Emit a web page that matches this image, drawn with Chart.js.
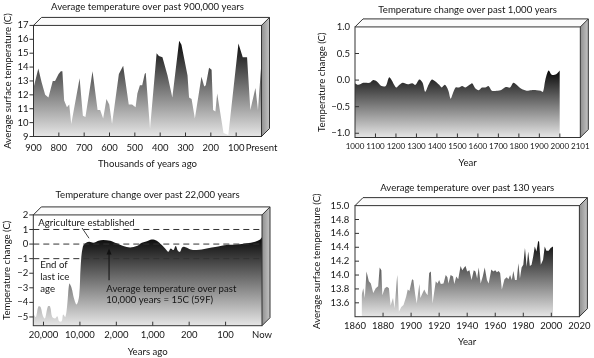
<!DOCTYPE html>
<html>
<head>
<meta charset="utf-8">
<script src="https://cdn.jsdelivr.net/npm/chart.js@4/dist/chart.umd.min.js"></script>
<style>
  body { margin: 0; background: #fff; width: 594px; height: 358px; position: relative; overflow: hidden; }
  canvas { position: absolute; }
</style>
</head>
<body>
<canvas id="c900" width="297" height="179" style="left:0;top:0"></canvas>
<canvas id="c1000" width="297" height="179" style="left:297px;top:0"></canvas>
<canvas id="c22000" width="297" height="179" style="left:0;top:179px"></canvas>
<canvas id="c130" width="297" height="179" style="left:297px;top:179px"></canvas>
<script>
// Past 900,000 years (thousands of years ago -> deg C)
const kyaAgo = [900, 881, 868, 854, 841, 824, 815, 801, 792, 786, 779, 768, 759, 751, 718, 705, 695, 667, 647, 637, 625, 612, 601, 590, 563, 546, 524, 511, 497, 490, 480, 471, 461, 457, 440, 414, 405, 391, 371, 352, 325, 316, 292, 286, 276, 263, 237, 226, 220, 207, 197, 191, 182, 175, 150, 131, 91, 74, 57, 44, 24, 14, 0];
const kyaTemp = [12.5, 13.9, 12.9, 12.0, 11.8, 13.0, 13.0, 13.5, 13.7, 13.7, 11.6, 11.1, 11.3, 9.9, 13.2, 10.5, 10.4, 13.7, 10.9, 10.9, 10.3, 11.7, 11.3, 9.9, 13.5, 14.1, 11.3, 11.3, 11.1, 12.1, 12.7, 12.7, 13.5, 13.6, 9.55, 15.0, 14.8, 14.7, 13.4, 11.8, 15.9, 15.6, 13.4, 11.8, 11.7, 10.3, 13.3, 12.6, 12.7, 13.95, 13.8, 10.9, 10.8, 12.1, 9.25, 9.1, 15.7, 14.7, 14.7, 10.9, 12.5, 10.9, 14.4];
const kyaTicks = [900, 800, 700, 600, 500, 400, 300, 200, 100, 0];
const kyaLabels = ["900", "800", "700", "600", "500", "400", "300", "200", "100", "Present"];
const kyaTempTicks = [9, 10, 11, 12, 13, 14, 15, 16, 17];

// Past 1,000 years (year -> change, deg C)
const milYears = [1000, 1016, 1040, 1072, 1089, 1108, 1129, 1150, 1166, 1177, 1201, 1217, 1233, 1258, 1279, 1295, 1314, 1330, 1343, 1359, 1375, 1391, 1411, 1423, 1439, 1455, 1467, 1478, 1491, 1507, 1523, 1539, 1559, 1572, 1588, 1604, 1620, 1636, 1652, 1668, 1692, 1716, 1736, 1757, 1773, 1789, 1810, 1837, 1861, 1886, 1906, 1918, 1929, 1945, 1961, 1982, 2000];
const milChange = [-0.06, -0.09, -0.05, -0.05, 0.0, -0.03, -0.11, -0.11, 0.05, 0.01, -0.14, -0.09, -0.05, -0.08, -0.06, -0.09, 0.01, -0.05, -0.22, -0.09, 0.01, -0.02, -0.09, -0.14, -0.09, -0.19, -0.35, -0.25, -0.14, -0.14, -0.11, -0.14, -0.09, -0.06, -0.16, -0.19, -0.14, -0.14, -0.11, -0.2, -0.2, -0.18, -0.13, -0.14, -0.05, -0.09, -0.16, -0.2, -0.19, -0.19, -0.2, -0.22, 0.0, 0.18, 0.1, 0.11, 0.18];
const milTicks = [1000, 1100, 1200, 1300, 1400, 1500, 1600, 1700, 1800, 1900, 2000, 2100];
const milLabels = ["1000", "1100", "1200", "1300", "1400", "1500", "1600", "1700", "1800", "1900", "2000", "2101"];
const milChangeTicks = [-1.0, -0.5, 0.0, 0.5, 1.0];

// Past 22,000 years (position on the uneven axis -> change, deg C)
const holoPos = [-0.28, -0.21, -0.14, -0.08, -0.02, 0.04, 0.12, 0.18, 0.24, 0.32, 0.38, 0.43, 0.5, 0.54, 0.6, 0.65, 0.71, 0.77, 0.84, 0.91, 0.98, 1.02, 1.08, 1.17, 1.26, 1.37, 1.51, 1.64, 1.83, 2.01, 2.19, 2.38, 2.56, 2.7, 2.84, 2.97, 3.11, 3.25, 3.34, 3.43, 3.49, 3.57, 3.63, 3.69, 3.75, 3.8, 3.86, 4.02, 4.21, 4.48, 4.76, 5.03, 5.31, 5.58, 5.81, 5.95, 6.0];
const holoChange = [-4.78, -5.0, -4.28, -4.32, -4.9, -5.1, -4.28, -4.28, -5.0, -5.1, -4.95, -5.3, -5.3, -4.83, -5.0, -4.2, -2.71, -2.99, -3.75, -4.14, -3.52, -1.56, -0.19, 0.09, 0.16, 0.09, 0.23, 0.28, 0.23, 0.05, -0.14, -0.23, -0.14, 0.09, 0.2, 0.32, 0.23, -0.07, -0.3, -0.53, -0.3, -0.41, -0.14, -0.46, -0.53, -0.25, -0.19, -0.35, -0.41, -0.3, -0.19, -0.07, -0.03, 0.05, 0.16, 0.32, 0.46];
const holoLabels = ["20,000", "10,000", "2,000", "1,000", "200", "100", "Now"];
const holoChangeTicks = [-5, -4, -3, -2, -1, 0, 1, 2];
const holoRefLines = [1, 0, -1];

// Past 130 years (year -> deg C)
const recYears = [1864.7, 1865.9, 1867, 1868.2, 1869.9, 1871.3, 1873, 1874.8, 1876.5, 1877.6, 1878.8, 1879.5, 1881.2, 1882.8, 1884.2, 1885.4, 1887.1, 1888.2, 1890.1, 1891.3, 1893, 1894.6, 1896.5, 1897.6, 1898.8, 1900.7, 1901.6, 1903, 1904, 1905.9, 1906.6, 1908.2, 1909.4, 1910.6, 1911.8, 1912.9, 1914.1, 1915.3, 1917.6, 1918.8, 1920, 1921.2, 1923.1, 1924.7, 1925.9, 1926.6, 1928.2, 1929.9, 1930.8, 1932.2, 1933.6, 1935.3, 1936.5, 1937.6, 1938.8, 1940, 1941.6, 1943.1, 1944.7, 1945.9, 1947.1, 1948.2, 1949.6, 1951.1, 1952.5, 1954.1, 1955.3, 1957.2, 1958.6, 1960, 1961.2, 1962.4, 1963.5, 1964.7, 1966.6, 1968.2, 1969.4, 1970.6, 1971.8, 1972.9, 1974.1, 1975.3, 1976.5, 1977.6, 1978.8, 1980, 1981.2, 1982.4, 1983.5, 1984.7, 1985.9, 1987.1, 1988.2, 1989.4, 1990.6, 1991.3, 1992.5, 1994.1, 1995.3, 1996.5, 1998.1, 1999.5, 2001.2];
const recTemp = [13.71, 13.81, 13.67, 14.05, 13.91, 13.88, 13.74, 13.81, 13.84, 14.11, 14.07, 13.71, 13.81, 13.83, 13.81, 13.56, 13.67, 13.52, 14.0, 13.47, 13.54, 13.57, 13.69, 13.79, 13.77, 13.94, 13.93, 13.71, 13.59, 13.87, 13.67, 13.74, 13.79, 13.74, 13.71, 14.03, 14.05, 13.59, 13.91, 13.88, 13.93, 13.87, 13.88, 14.0, 13.97, 13.88, 14.0, 13.98, 13.87, 13.98, 13.94, 14.13, 14.07, 14.1, 14.13, 14.05, 14.07, 13.93, 14.07, 14.05, 13.95, 14.11, 13.88, 13.98, 14.11, 13.93, 13.88, 14.08, 14.05, 14.07, 14.04, 14.06, 14.03, 13.79, 13.94, 13.97, 13.94, 14.0, 13.93, 14.06, 13.93, 13.93, 14.17, 13.95, 14.11, 14.15, 14.39, 14.12, 14.34, 14.13, 14.15, 14.27, 14.41, 14.34, 14.49, 14.48, 14.15, 14.22, 14.41, 14.35, 14.35, 14.39, 14.41];
const recTicks = [1860, 1880, 1900, 1920, 1940, 1960, 1980, 2000, 2020];
const recTempTicks = [13.6, 13.8, 14.0, 14.2, 14.4, 14.6, 14.8, 15.0];

const FONT = 'Lato, "Noto Sans", sans-serif';
Chart.defaults.font.family = FONT;
Chart.defaults.color = "#151515";

const minus = (s) => s.replace("-", "\u2212");

// front face, top face and side face of the "box", plus the little tick marks
const box3d = {
    id: "box3d",
    beforeDatasetsDraw(chart, args, opts) {
        const { ctx, chartArea: a } = chart;
        const d = opts.depth;
        ctx.save();
        ctx.fillStyle = "#fbfbfb";
        ctx.beginPath();
        ctx.moveTo(a.left, a.top);
        ctx.lineTo(a.left + d, a.top - d);
        ctx.lineTo(a.right + d, a.top - d);
        ctx.lineTo(a.right, a.top);
        ctx.closePath();
        ctx.fill();
        const g = ctx.createLinearGradient(a.right, 0, a.right + d, 0);
        g.addColorStop(0, "#8f8f8f");
        g.addColorStop(1, "#c4c4c4");
        ctx.fillStyle = g;
        ctx.beginPath();
        ctx.moveTo(a.right, a.top);
        ctx.lineTo(a.right + d, a.top - d);
        ctx.lineTo(a.right + d, a.bottom - d);
        ctx.lineTo(a.right, a.bottom);
        ctx.closePath();
        ctx.fill();
        ctx.restore();
    },
    afterDatasetsDraw(chart, args, opts) {
        const { ctx, chartArea: a, scales } = chart;
        const d = opts.depth;
        ctx.save();
        ctx.strokeStyle = "#333";
        ctx.lineWidth = 1;
        ctx.strokeRect(a.left, a.top, a.right - a.left, a.bottom - a.top);
        ctx.beginPath();
        ctx.moveTo(a.left, a.top);
        ctx.lineTo(a.left + d, a.top - d);
        ctx.lineTo(a.right + d, a.top - d);
        ctx.lineTo(a.right + d, a.bottom - d);
        ctx.lineTo(a.right, a.bottom);
        ctx.moveTo(a.right, a.top);
        ctx.lineTo(a.right + d, a.top - d);
        ctx.stroke();

        ctx.beginPath();
        scales.x.ticks.forEach((t) => {
            const px = scales.x.getPixelForValue(t.value);
            if (px > a.left + 1 && px < a.right - 1) {
                ctx.moveTo(px, a.bottom);
                ctx.lineTo(px, a.bottom - 4);
            }
        });
        scales.y.ticks.forEach((t) => {
            const py = scales.y.getPixelForValue(t.value);
            if (opts.yInside) {
                if (py > a.top + 1 && py < a.bottom - 1) {
                    ctx.moveTo(a.left, py);
                    ctx.lineTo(a.left + 4, py);
                }
            } else {
                ctx.moveTo(a.left - 4, py);
                ctx.lineTo(a.left, py);
            }
        });
        ctx.stroke();
        ctx.restore();
    },
};
Chart.register(box3d);

function shade(values) {
    return (c) => {
        const { chart } = c;
        const { chartArea, scales } = chart;
        if (!chartArea) return "#888";
        const top = scales.y.getPixelForValue(Math.max(...values));
        const g = chart.ctx.createLinearGradient(0, top, 0, chartArea.bottom);
        g.addColorStop(0, "#080808");
        g.addColorStop(1, "#e6e6e6");
        return g;
    };
}

function panel(id, o) {
    return new Chart(document.getElementById(id), {
        type: "line",
        data: {
            datasets: [
                {
                    data: o.xs.map((x, i) => ({ x: x, y: o.ys[i] })),
                    fill: "start",
                    backgroundColor: shade(o.ys),
                    borderWidth: 0,
                    pointRadius: 0,
                    tension: o.tension || 0,
                },
            ],
        },
        options: {
            responsive: false,
            animation: false,
            layout: { padding: { top: o.padTop, right: o.padRight, left: 0, bottom: 0 } },
            plugins: {
                legend: { display: false },
                tooltip: { enabled: false },
                title: {
                    display: true,
                    fullSize: false,
                    text: o.title,
                    color: "#151515",
                    font: { size: 9.6, weight: "normal" },
                    padding: { top: 0, bottom: o.titleGap },
                },
                box3d: { depth: 8, yInside: o.yInside },
            },
            scales: {
                x: {
                    type: "linear",
                    min: o.xMin,
                    max: o.xMax,
                    reverse: !!o.xReverse,
                    grid: { display: false, drawTicks: false },
                    border: { display: false },
                    afterBuildTicks: (s) => { s.ticks = o.xTicks.map((v) => ({ value: v })); },
                    afterFit: (s) => { s.height = o.xHeight; },
                    ticks: {
                        autoSkip: false,
                        maxRotation: 0,
                        padding: o.xPad,
                        font: { size: o.xFont || 9.5 },
                        callback: (v, i) => o.xLabels[i],
                    },
                    title: { display: true, text: o.xTitle, font: { size: 9.6 }, padding: { top: 0, bottom: o.xTitlePad } },
                },
                y: {
                    min: o.yMin,
                    max: o.yMax,
                    grid: { display: false, drawTicks: false },
                    border: { display: false },
                    afterBuildTicks: (s) => { s.ticks = o.yTicks.map((v) => ({ value: v })); },
                    afterFit: (s) => { s.width = o.yWidth; },
                    ticks: {
                        autoSkip: false,
                        padding: o.yPad,
                        font: { size: 9.5 },
                        callback: o.yFormat,
                    },
                    title: { display: true, text: o.yTitle, font: { size: 9.6 }, padding: { top: o.yTitlePad, bottom: 0 } },
                },
            },
        },
        plugins: o.extra ? [o.extra] : [],
    });
}

panel("c900", {
    xs: kyaAgo, ys: kyaTemp,
    title: "Average temperature over past 900,000 years",
    xMin: 0, xMax: 900, xReverse: true, xTicks: kyaTicks, xLabels: kyaLabels,
    yMin: 9, yMax: 17, yTicks: kyaTempTicks, yFormat: (v) => String(v),
    xTitle: "Thousands of years ago", yTitle: "Average surface temperature (C)",
    padTop: 0.7, padRight: 35.5, titleGap: 13.2,
    yWidth: 33.5, yPad: 5, yTitlePad: 2.2,
    xHeight: 42.5, xPad: 5.8, xTitlePad: 9.2,
    yInside: false,
});

panel("c1000", {
    xs: milYears, ys: milChange, tension: 0.3,
    title: "Temperature change over past 1,000 years",
    xMin: 1000, xMax: 2100, xTicks: milTicks, xLabels: milLabels, xFont: 8,
    yMin: -1.08, yMax: 1.0, yTicks: milChangeTicks, yFormat: (v) => minus(v.toFixed(1)),
    xTitle: "Year", yTitle: "Temperature change (C)",
    padTop: 4.2, padRight: 11, titleGap: 11.2,
    yWidth: 58, yPad: 5, yTitlePad: 18.9,
    xHeight: 41.5, xPad: 4.4, xTitlePad: 9.9,
    yInside: true,
});

// notes drawn over the 22,000 year panel
const holoNotes = {
    id: "holoNotes",
    afterDatasetsDraw(chart) {
        const { ctx, chartArea: a, scales: { x, y } } = chart;
        ctx.save();
        ctx.strokeStyle = "#333";
        ctx.lineWidth = 1;
        ctx.setLineDash([6, 4]);
        holoRefLines.forEach((v) => {
            const py = y.getPixelForValue(v);
            ctx.beginPath();
            ctx.moveTo(a.left, py);
            ctx.lineTo(a.right, py);
            ctx.stroke();
        });
        ctx.setLineDash([]);
        // leader to the start of farming
        ctx.strokeStyle = "#444";
        ctx.beginPath();
        ctx.moveTo(x.getPixelForValue(1.06), y.getPixelForValue(1.1));
        ctx.lineTo(x.getPixelForValue(1.25), y.getPixelForValue(0.4));
        ctx.stroke();
        // arrow to the zero line
        const ax = x.getPixelForValue(1.8);
        const tip = y.getPixelForValue(-0.3);
        ctx.strokeStyle = "#111";
        ctx.beginPath();
        ctx.moveTo(ax, y.getPixelForValue(-2.48));
        ctx.lineTo(ax, tip + 3);
        ctx.stroke();
        ctx.fillStyle = "#111";
        ctx.beginPath();
        ctx.moveTo(ax, tip);
        ctx.lineTo(ax - 2.5, tip + 6);
        ctx.lineTo(ax + 2.5, tip + 6);
        ctx.closePath();
        ctx.fill();

        ctx.fillStyle = "#151515";
        ctx.font = "9.6px " + FONT;
        ctx.textBaseline = "middle";
        ctx.textAlign = "left";
        ctx.fillText("Agriculture established", a.left + 5, a.top + 8);
        ctx.fillText("End of", a.left + 7, a.top + 50);
        ctx.fillText("last ice", a.left + 7, a.top + 62);
        ctx.fillText("age", a.left + 7, a.top + 74);
        ctx.fillText("Average temperature over past", a.left + 73, a.top + 74);
        ctx.fillText("10,000 years = 15C (59F)", a.left + 73, a.top + 84.5);
        ctx.restore();
    },
};

panel("c22000", {
    xs: holoPos, ys: holoChange, tension: 0.35,
    title: "Temperature change over past 22,000 years",
    xMin: -0.28, xMax: 6, xTicks: [0, 1, 2, 3, 4, 5, 6], xLabels: holoLabels,
    yMin: -5.6, yMax: 2, yTicks: holoChangeTicks, yFormat: (v) => minus(String(v)),
    xTitle: "Years ago", yTitle: "Temperature change (C)",
    padTop: 10.2, padRight: 35, titleGap: 14.2,
    yWidth: 33.3, yPad: 5, yTitlePad: 0.9,
    xHeight: 32.3, xPad: 3.6, xTitlePad: 0.5,
    yInside: false,
    extra: holoNotes,
});

panel("c130", {
    xs: recYears, ys: recTemp,
    title: "Average temperature over past 130 years",
    xMin: 1860, xMax: 2020, xTicks: recTicks, xLabels: recTicks.map(String),
    yMin: 13.4, yMax: 15.0, yTicks: recTempTicks, yFormat: (v) => v.toFixed(1),
    xTitle: "Year", yTitle: "Average surface temperature (C)",
    padTop: 3.5, padRight: 11.5, titleGap: 11.6,
    yWidth: 58, yPad: 5.7, yTitlePad: 13.9,
    xHeight: 41.3, xPad: 3.6, xTitlePad: 9.9,
    yInside: true,
});
</script>
</body>
</html>
